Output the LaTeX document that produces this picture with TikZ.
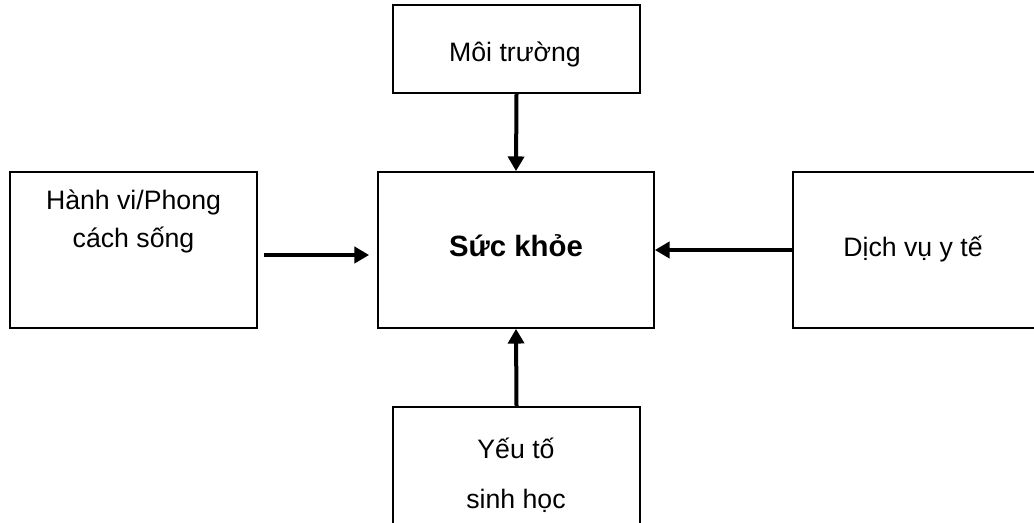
\documentclass[tikz,border=0pt]{standalone}
\usepackage{fontspec}
\setmainfont{Liberation Sans}
\usetikzlibrary{arrows.meta}
\begin{document}
\begin{tikzpicture}[x=0.75pt, y=-0.75pt,
    box/.style={draw, line width=1.3pt, rectangle, inner sep=0pt},
    txt/.style={anchor=base, align=center, inner sep=0pt, font=\fontsize{20}{28.5}\selectfont},
    arr/.style={line width=3pt, -{Triangle[length=11pt, width=12pt]}}]
\useasboundingbox (0,0) rectangle (1034,523);
% boxes
\node[box, minimum width=185.25pt, minimum height=66pt] (mt) at (516.5, 49) {};
\node[box, minimum width=207pt, minimum height=117pt] (sk) at (516, 250) {};
\node[box, minimum width=185.25pt, minimum height=117pt] (hv) at (133.5, 250) {};
\node[box, minimum width=187.5pt, minimum height=117pt] (dv) at (918, 250) {};
\node[box, minimum width=185.25pt, minimum height=120pt] (yt) at (516.5, 487) {};
% texts
\node[txt] (t_mt) at (515, 62) {Môi trường};
\node[txt, font=\fontsize{22}{26}\selectfont\bfseries] (t_sk) at (516, 257) {Sức khỏe};
\node[txt] (t_hv) at (133.5, 248) {Hành vi/Phong\\cách sống};
\node[txt] (t_dv) at (913, 257) {Dịch vụ y tế};
\node[txt] (t_yt1) at (516, 458) {Yếu tố};
\node[txt] (t_yt2) at (516, 508) {sinh học};
% arrows
\draw[arr] (mt.south) -- (sk.north);
\draw[arr] (yt.north) -- (sk.south);
\draw[arr, shorten <=4.5pt, shorten >=6pt] ([yshift=-3.75pt]hv.east) -- ([yshift=-3.75pt]sk.west);
\draw[arr] (dv.west) -- (sk.east);
\end{tikzpicture}
\end{document}
